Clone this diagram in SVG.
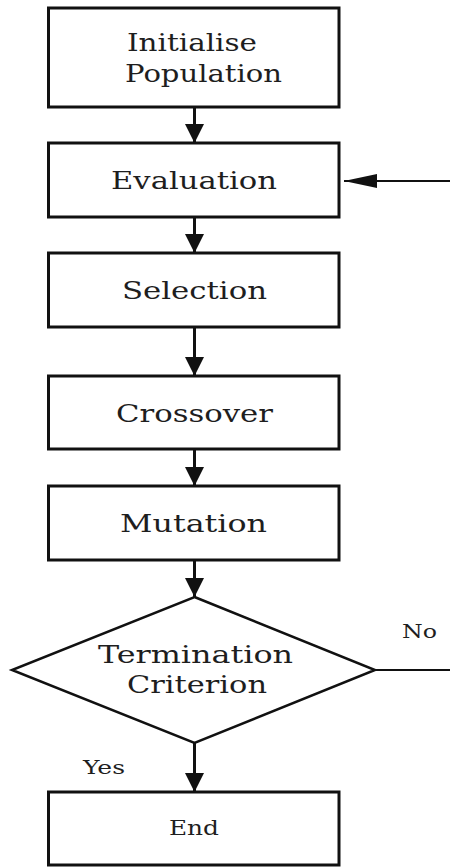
<svg xmlns="http://www.w3.org/2000/svg" width="450" height="867" viewBox="0 0 450 867">
  <style>
    .box { fill: #ffffff; stroke: #111111; stroke-width: 3; }
    .dia { fill: #ffffff; stroke: #111111; stroke-width: 2.5; }
    .lbl { font-family: "DejaVu Serif", "Liberation Serif", serif; font-size: 24px; fill: #1e1e1e; }
    .sm { font-family: "DejaVu Serif", "Liberation Serif", serif; font-size: 19px; fill: #1e1e1e; }
    .flow { stroke: #111111; stroke-width: 3; fill: none; marker-end: url(#head); }
    .side { stroke: #111111; stroke-width: 2; fill: none; }
  </style>
  <defs>
    <marker id="head" viewBox="0 0 20 20" refX="20" refY="10" markerWidth="19" markerHeight="19" markerUnits="userSpaceOnUse" orient="auto">
      <path d="M0,0 L20,10 L0,20 z" fill="#111111"/>
    </marker>
    <marker id="longhead" viewBox="0 0 33 14" refX="33" refY="7" markerWidth="33" markerHeight="14" markerUnits="userSpaceOnUse" orient="auto">
      <path d="M0,0 L33,7 L0,14 z" fill="#111111"/>
    </marker>
  </defs>
  <rect width="450" height="867" fill="#ffffff"/>

  <g id="connectors">
    <line class="flow" x1="194.5" y1="107" x2="194.5" y2="143"/>
    <line class="flow" x1="194.5" y1="217" x2="194.5" y2="253"/>
    <line class="flow" x1="194.5" y1="327" x2="194.5" y2="376"/>
    <line class="flow" x1="194.5" y1="449" x2="194.5" y2="486"/>
    <line class="flow" x1="194.5" y1="560" x2="194.5" y2="597"/>
    <line class="flow" x1="194.5" y1="743" x2="194.5" y2="792"/>
    <line class="side" x1="450" y1="181" x2="344" y2="181" marker-end="url(#longhead)"/>
    <line class="side" x1="375" y1="670" x2="450" y2="670"/>
    <text class="sm" x="402" y="638" textLength="35" lengthAdjust="spacingAndGlyphs">No</text>
    <text class="sm" x="83" y="774" textLength="42" lengthAdjust="spacingAndGlyphs">Yes</text>
  </g>

  <g id="init">
    <rect class="box" x="48.5" y="8" width="290.5" height="99"/>
    <text class="lbl" x="127" y="51" textLength="130" lengthAdjust="spacingAndGlyphs">Initialise</text>
    <text class="lbl" x="125" y="82" textLength="157" lengthAdjust="spacingAndGlyphs">Population</text>
  </g>

  <g id="evaluation">
    <rect class="box" x="48.5" y="143" width="290.5" height="74"/>
    <text class="lbl" x="111" y="189" textLength="166" lengthAdjust="spacingAndGlyphs">Evaluation</text>
  </g>

  <g id="selection">
    <rect class="box" x="48.5" y="253" width="290.5" height="74"/>
    <text class="lbl" x="122" y="299" textLength="145" lengthAdjust="spacingAndGlyphs">Selection</text>
  </g>

  <g id="crossover">
    <rect class="box" x="48.5" y="376" width="290.5" height="73"/>
    <text class="lbl" x="116" y="422" textLength="157" lengthAdjust="spacingAndGlyphs">Crossover</text>
  </g>

  <g id="mutation">
    <rect class="box" x="48.5" y="486" width="290.5" height="74"/>
    <text class="lbl" x="120" y="532" textLength="147" lengthAdjust="spacingAndGlyphs">Mutation</text>
  </g>

  <g id="termination">
    <polygon class="dia" points="194.5,597 375,670 194.5,743 12,670"/>
    <text class="lbl" x="98" y="663" textLength="195" lengthAdjust="spacingAndGlyphs">Termination</text>
    <text class="lbl" x="127" y="693" textLength="140" lengthAdjust="spacingAndGlyphs">Criterion</text>
  </g>

  <g id="end">
    <rect class="box" x="48.5" y="792" width="290.5" height="73"/>
    <text class="sm" x="169" y="835" textLength="50" lengthAdjust="spacingAndGlyphs" style="font-size:20px">End</text>
  </g>
</svg>
